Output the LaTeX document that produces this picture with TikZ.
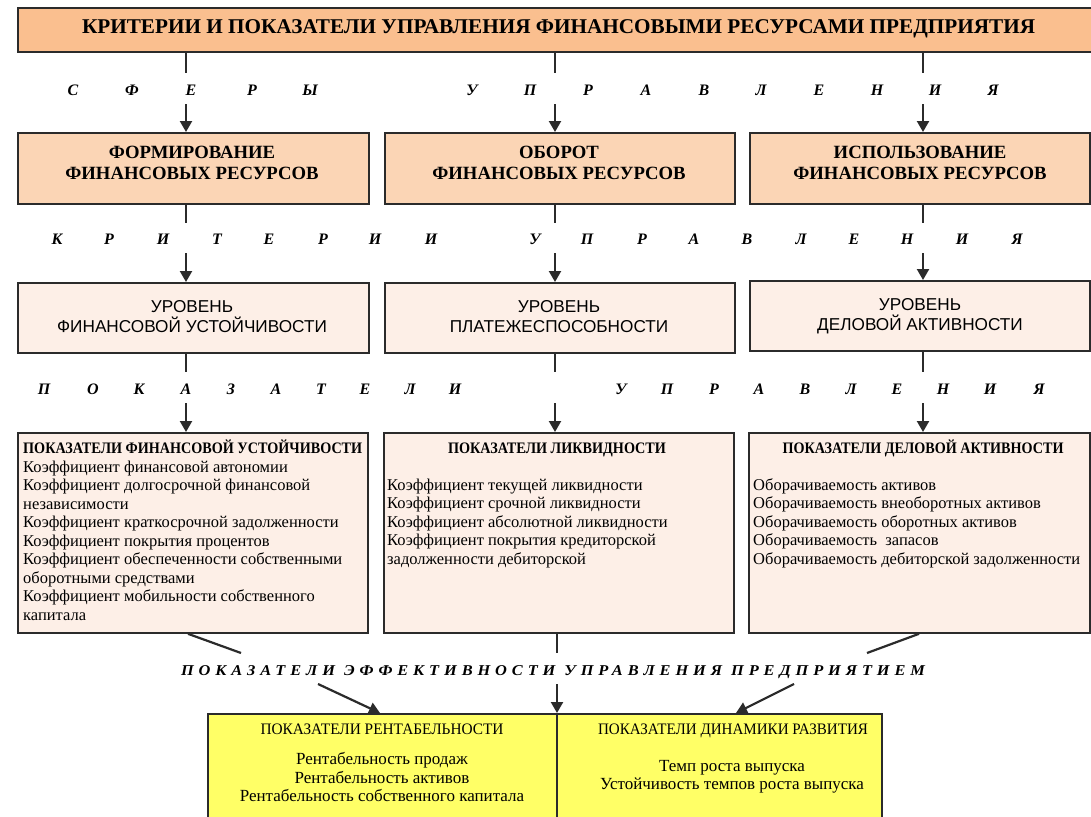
\documentclass[tikz,border=0pt]{standalone}
\usepackage{fontspec}
\usepackage{graphicx}
\setmainfont{Liberation Serif}
\newfontfamily\sansfont{Liberation Sans}
\newfontfamily\trackfont[LetterSpace=30]{Liberation Serif}
\usetikzlibrary{arrows.meta}

\definecolor{titlefill}{HTML}{FABF8F}
\definecolor{areafill}{HTML}{FBD5B5}
\definecolor{palefill}{HTML}{FDEFE7}
\definecolor{yellowfill}{HTML}{FFFF66}
\definecolor{edge}{HTML}{2B2B2B}

% set a line of text and stretch it horizontally to a given width (in pt)
\newsavebox\fitbox
\newcommand\fitw[2]{\sbox\fitbox{#2}\pgfmathsetmacro\fitfactor{#1/\the\wd\fitbox}\scalebox{\fitfactor}[1]{\usebox\fitbox}}

\tikzset{
  frame/.style={draw=edge, line width=1.8pt, rectangle, inner sep=0pt, anchor=north west},
  link/.style={draw=edge, line width=2.2pt},
  arrowlink/.style={link, -{Triangle[width=12pt,length=11pt]}},
  spaced/.style={font=\fontsize{16}{18}\selectfont\bfseries\itshape, anchor=base, inner sep=0pt},
  areatext/.style={font=\fontsize{18.7}{21}\selectfont\bfseries, anchor=base, inner sep=0pt},
  leveltext/.style={font=\sansfont\fontsize{17.2}{19}\selectfont, anchor=base, inner sep=0pt},
  body/.style={font=\fontsize{16.5}{18.5}\selectfont, anchor=base west, inner sep=0pt},
  bodyc/.style={font=\fontsize{17}{18.5}\selectfont, anchor=base, inner sep=0pt},
  head/.style={anchor=base, inner sep=0pt},
}

\begin{document}
\begin{tikzpicture}[x=1pt,y=-1pt]
\clip (0,0) rectangle (1091,816);
\fill[white] (0,0) rectangle (1091,816);

% ---------- title ----------
\node[frame, fill=titlefill, minimum width=1080pt, minimum height=44pt] (title) at (17,7) {};
\node[head] (titletext) at (558.5,34)
  {\fitw{953}{\fontsize{21}{24}\selectfont\bfseries КРИТЕРИИ И ПОКАЗАТЕЛИ УПРАВЛЕНИЯ ФИНАНСОВЫМИ РЕСУРСАМИ ПРЕДПРИЯТИЯ}};

% ---------- areas of management ----------
\node[frame, fill=areafill, minimum width=351pt, minimum height=71pt] (form) at (17,132) {};
\node[frame, fill=areafill, minimum width=350pt, minimum height=71pt] (turn) at (384,132) {};
\node[frame, fill=areafill, minimum width=340pt, minimum height=71pt] (use) at (749,132) {};
\node[areatext] (formA) at (192,158) {ФОРМИРОВАНИЕ};
\node[areatext] (formB) at (192,179) {ФИНАНСОВЫХ РЕСУРСОВ};
\node[areatext] (turnA) at (559,158) {ОБОРОТ};
\node[areatext] (turnB) at (559,179) {ФИНАНСОВЫХ РЕСУРСОВ};
\node[areatext] (useA) at (920,158) {ИСПОЛЬЗОВАНИЕ};
\node[areatext] (useB) at (920,179) {ФИНАНСОВЫХ РЕСУРСОВ};

% ---------- criteria ----------
\node[frame, fill=palefill, minimum width=351pt, minimum height=70pt] (lvlA) at (17,282) {};
\node[frame, fill=palefill, minimum width=350pt, minimum height=70pt] (lvlB) at (384,282) {};
\node[frame, fill=palefill, minimum width=340pt, minimum height=70pt] (lvlC) at (749,280) {};
\node[leveltext] (lvlA1) at (192,312) {УРОВЕНЬ};
\node[leveltext] (lvlA2) at (192,332) {ФИНАНСОВОЙ УСТОЙЧИВОСТИ};
\node[leveltext] (lvlB1) at (559,312) {УРОВЕНЬ};
\node[leveltext] (lvlB2) at (559,332) {ПЛАТЕЖЕСПОСОБНОСТИ};
\node[leveltext] (lvlC1) at (920,310) {УРОВЕНЬ};
\node[leveltext] (lvlC2) at (920,330) {ДЕЛОВОЙ АКТИВНОСТИ};

% ---------- indicators ----------
\node[frame, fill=palefill, minimum width=350pt, minimum height=200pt] (indA) at (17,432) {};
\node[frame, fill=palefill, minimum width=350pt, minimum height=200pt] (indB) at (383,432) {};
\node[frame, fill=palefill, minimum width=341pt, minimum height=200pt] (indC) at (748,432) {};

\node[head, anchor=base west] (indAh) at (23,453)
  {\fitw{339}{\fontsize{16}{18}\selectfont\bfseries ПОКАЗАТЕЛИ ФИНАНСОВОЙ УСТОЙЧИВОСТИ}};
\foreach \t [count=\k] in {Коэффициент финансовой автономии,
  Коэффициент долгосрочной финансовой, независимости,
  Коэффициент краткосрочной задолженности, Коэффициент покрытия процентов,
  Коэффициент обеспеченности собственными, оборотными средствами,
  Коэффициент мобильности собственного, капитала}
  \node[body] (indA-\k) at (23,{472+18.5*(\k-1)}) {\t};

\node[head] (indBh) at (557,453)
  {\fitw{218}{\fontsize{16}{18}\selectfont\bfseries ПОКАЗАТЕЛИ ЛИКВИДНОСТИ}};
\foreach \t [count=\k] in {Коэффициент текущей ликвидности,
  Коэффициент срочной ликвидности, Коэффициент абсолютной ликвидности,
  Коэффициент покрытия кредиторской, задолженности дебиторской}
  \node[body] (indB-\k) at (387,{490+18.5*(\k-1)}) {\t};

\node[head] (indCh) at (923,453)
  {\fitw{281}{\fontsize{16}{18}\selectfont\bfseries ПОКАЗАТЕЛИ ДЕЛОВОЙ АКТИВНОСТИ}};
\foreach \t [count=\k] in {Оборачиваемость активов,
  Оборачиваемость внеоборотных активов, Оборачиваемость оборотных активов,
  Оборачиваемость\ \ запасов, Оборачиваемость дебиторской задолженности}
  \node[body] (indC-\k) at (753,{490+18.5*(\k-1)}) {\t};

% ---------- efficiency indicators ----------
\node[frame, fill=yellowfill, minimum width=349pt, minimum height=130pt] (yelL) at (207,713) {};
\node[frame, fill=yellowfill, minimum width=325pt, minimum height=130pt] (yelR) at (556,713) {};
\node[head] (yelLh) at (382,734)
  {\fitw{243}{\fontsize{16}{18}\selectfont ПОКАЗАТЕЛИ РЕНТАБЕЛЬНОСТИ}};
\node[bodyc] (yelL1) at (382,764) {Рентабельность продаж};
\node[bodyc] (yelL2) at (382,783) {Рентабельность активов};
\node[bodyc] (yelL3) at (382,801) {Рентабельность собственного капитала};
\node[head] (yelRh) at (733,734)
  {\fitw{270}{\fontsize{16}{18}\selectfont ПОКАЗАТЕЛИ ДИНАМИКИ РАЗВИТИЯ}};
\node[bodyc] (yelR1) at (732,771) {Темп роста выпуска};
\node[bodyc] (yelR2) at (732,789) {Устойчивость темпов роста выпуска};

\node[head] (effect) at (553,675)
  {\fitw{744}{\trackfont\fontsize{15}{18}\selectfont\bfseries\itshape ПОКАЗАТЕЛИ ЭФФЕКТИВНОСТИ УПРАВЛЕНИЯ ПРЕДПРИЯТИЕМ}};

% ---------- spaced captions between the rows ----------
\foreach \ch/\xx [count=\k] in {С/73, Ф/132, Е/191, Р/252, Ы/310,
  У/472, П/530, Р/588, А/646, В/704, Л/761, Е/819, Н/877, И/935, Я/993}
  \node[spaced] (capA-\k) at (\xx,95) {\ch};
\foreach \ch/\xx [count=\k] in {К/57, Р/109, И/163, Т/217, Е/269, Р/323, И/375, И/431,
  У/535, П/587, Р/642, А/694, В/747, Л/801, Е/854, Н/907, И/962, Я/1017}
  \node[spaced] (capB-\k) at (\xx,244) {\ch};
\foreach \ch/\xx [count=\k] in {П/44, О/93, К/139, А/186, З/231, А/276, Т/321, Е/365, Л/410, И/455,
  У/621, П/667, Р/714, А/759, В/805, Л/851, Е/897, Н/943, И/990, Я/1039}
  \node[spaced] (capC-\k) at (\xx,394) {\ch};

% ---------- connectors ----------
\coordinate (s1) at (186,73);  \coordinate (s2) at (555,73);  \coordinate (s3) at (923,73);
\coordinate (e1) at (186,104); \coordinate (e2) at (555,104); \coordinate (e3) at (923,104);
\foreach \i/\n in {1/form, 2/turn, 3/use} {
  \draw[link] (title.south -| s\i) -- (s\i);
  \draw[arrowlink] (e\i) -- (\n.north -| e\i);
}
\coordinate (k1) at (186,223); \coordinate (k2) at (555,223); \coordinate (k3) at (923,223);
\coordinate (m1) at (186,253); \coordinate (m2) at (555,253); \coordinate (m3) at (923,253);
\draw[link] (form.south -| k1) -- (k1);
\draw[link] (turn.south -| k2) -- (k2);
\draw[link] (use.south -| k3) -- (k3);
\draw[arrowlink] (m1) -- (lvlA.north -| m1);
\draw[arrowlink] (m2) -- (lvlB.north -| m2);
\draw[arrowlink] (m3) -- (lvlC.north -| m3);
\coordinate (p1) at (186,372); \coordinate (p2) at (555,372); \coordinate (p3) at (923,372);
\coordinate (q1) at (186,403); \coordinate (q2) at (555,403); \coordinate (q3) at (923,403);
\draw[link] (lvlA.south -| p1) -- (p1);
\draw[link] (lvlB.south -| p2) -- (p2);
\draw[link] (lvlC.south -| p3) -- (p3);
\draw[arrowlink] (q1) -- (indA.north -| q1);
\draw[arrowlink] (q2) -- (indB.north -| q2);
\draw[arrowlink] (q3) -- (indC.north -| q3);

\coordinate (u1) at (188,632); \coordinate (v1) at (241,653);
\coordinate (u2) at (557,632); \coordinate (v2) at (557,653);
\coordinate (u3) at (919,632); \coordinate (v3) at (867,653);
\draw[link] (indA.south -| u1) -- (v1);
\draw[link] (indB.south -| u2) -- (v2);
\draw[link] (indC.south -| u3) -- (v3);
\coordinate (w1) at (318,684); \coordinate (z1) at (380,712);
\coordinate (w2) at (557,684); \coordinate (z2) at (557,712);
\coordinate (w3) at (794,684); \coordinate (z3) at (736,712);
\draw[arrowlink] (w1) -- (yelL.north -| z1);
\draw[arrowlink] (w2) -- (yelL.north -| z2);
\draw[arrowlink] (w3) -- (yelR.north -| z3);
\end{tikzpicture}
\end{document}
